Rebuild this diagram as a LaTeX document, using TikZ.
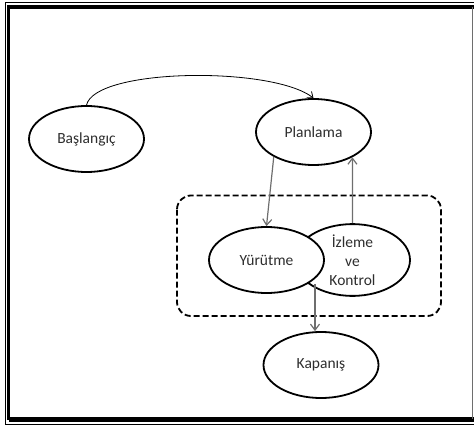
\documentclass[tikz,border=0pt]{standalone}
\usepackage{fontspec}
\setmainfont{Carlito}
\usetikzlibrary{shapes.geometric,arrows.meta}

\definecolor{linkgray}{HTML}{6E6E6E}
\definecolor{txtgray}{HTML}{2E2E2E}

\begin{document}
\begin{tikzpicture}[x=1pt,y=-1pt,
  phase/.style={ellipse, draw=black, line width=1.8pt, fill=white,
    minimum width=115pt, minimum height=66pt, inner sep=0pt,
    font=\fontsize{15.5}{19}\selectfont, text=txtgray, align=center},
  flow/.style={draw=linkgray, line width=1.2pt,
    -{Straight Barb[length=6pt,width=9pt]}},
  startflow/.style={draw=black, line width=0.8pt,
    -{Straight Barb[length=5pt,width=8pt]}},
  groupbox/.style={draw=black, line width=1.8pt, dash pattern=on 6pt off 3pt,
    rounded corners=14pt},
]
\useasboundingbox (0,0) rectangle (474,425);

% double frame
\draw[line width=1pt] (5.5,425) -- (5.5,2.2) -- (474,2.2);
\draw[line width=1pt] (5.5,424.2) -- (474,424.2);
\draw[line width=3.2pt] (8.8,419.5) -- (8.8,7) -- (474,7);
\draw[line width=4.5pt] (8.8,419.5) -- (474,419.5);
\draw[linkgray, line width=1.2pt] (472.6,7) -- (472.6,419);

% dashed group around execution and monitoring
\draw[groupbox] (177,195.5) rectangle (441,316);

% phases
\node[phase] (bas) at (86.5,139) {Başlangıç};
\node[phase] (plan) at (313.5,132) {Planlama};
\node[phase] (izl) at (352.5,260) {İzleme\\ve\\Kontrol};
\node[phase] (yur) at (266.5,260) {Yürütme};
\node[phase] (kap) at (321,365) {Kapanış};

% connectors
\draw[startflow] (bas.north) .. controls (95,68) and (272,66) .. (plan.north);
\draw[flow] (plan.212) -- (yur.north);
\draw[flow] (izl.north) -- (plan.327);
\coordinate (split) at (315,284);
\draw[flow] (split) -- (split |- kap.north);
\end{tikzpicture}
\end{document}
